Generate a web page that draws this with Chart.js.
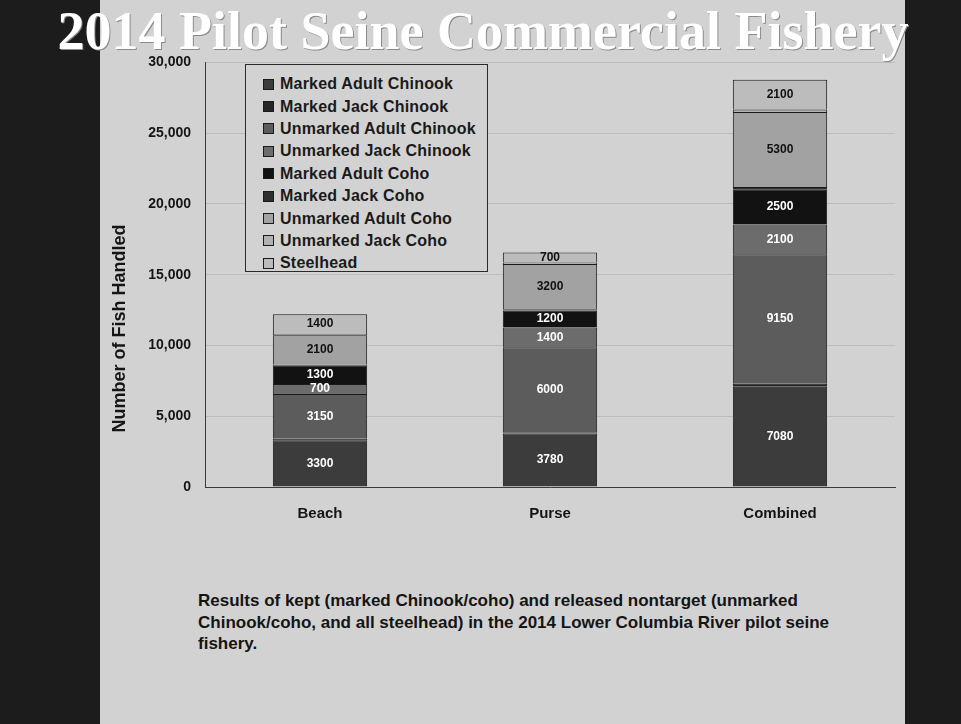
<!DOCTYPE html>
<html>
<head>
<meta charset="utf-8">
<script src="https://cdn.jsdelivr.net/npm/chart.js@4/dist/chart.umd.min.js"></script>
<style>
  html, body { margin: 0; padding: 0; }
  body { width: 961px; height: 724px; background: #1c1c1c; position: relative; overflow: hidden; font-family: "Liberation Sans", Arial, sans-serif; }
  #slide { position: absolute; left: 100px; top: 0; width: 805px; height: 724px; background: #d2d2d2; }
  #title { position: absolute; left: 0; top: 0px; width: 966px; text-align: center; color: #ffffff;
           font-family: "Liberation Serif", "Times New Roman", serif; font-weight: bold; font-size: 54px;
           text-shadow: 1px 1px 0 #8a8a8a; white-space: nowrap; }
  #chart-wrap { position: absolute; left: 100px; top: 40px; width: 805px; height: 500px; }
  #legend { position: absolute; left: 245px; top: 64px; width: 243px; height: 208px; border: 1px solid #2a2a2a;
            box-sizing: border-box; padding: 8px 0 0 17px; background: #d2d2d2; }
  .lg-item { height: 22.4px; display: flex; align-items: center; font-size: 16px; font-weight: bold; color: #1a1a1a; white-space: nowrap; letter-spacing: 0.2px; }
  .lg-sw { width: 9px; height: 9px; border: 1px solid #1a1a1a; margin-right: 6px; flex: none; }
  #caption { position: absolute; left: 198px; top: 590px; font-size: 17px; font-weight: bold; color: #151515; line-height: 21.5px; white-space: nowrap; }
</style>
</head>
<body>
<div id="slide"></div>
<div id="title">2014 Pilot Seine Commercial Fishery</div>
<div id="chart-wrap"><canvas id="fish-chart"></canvas></div>
<div id="legend"></div>
<div id="caption">Results of kept (marked Chinook/coho) and released nontarget (unmarked<br>Chinook/coho, and all steelhead) in the 2014 Lower Columbia River pilot seine<br>fishery.</div>
<script>
// 카테고리 / 시리즈 (아래에서 위로 쌓이는 순서)
const categories = ["Beach", "Purse", "Combined"];
const seriesLabels = [
  "Marked Adult Chinook", "Marked Jack Chinook", "Unmarked Adult Chinook", "Unmarked Jack Chinook",
  "Marked Adult Coho", "Marked Jack Coho", "Unmarked Adult Coho", "Unmarked Jack Coho", "Steelhead"
];
const markedAdultChinook   = [3300, 3780, 7080];
const markedJackChinook    = [120, 90, 210];
const unmarkedAdultChinook = [3150, 6000, 9150];
const unmarkedJackChinook  = [700, 1400, 2100];
const markedAdultCoho      = [1300, 1200, 2500];
const markedJackCoho       = [60, 90, 150];
const unmarkedAdultCoho    = [2100, 3200, 5300];
const unmarkedJackCoho     = [80, 100, 180];
const steelhead            = [1400, 700, 2100];
const yTicks = [0, 5000, 10000, 15000, 20000, 25000, 30000];

const seriesValues = [
  markedAdultChinook, markedJackChinook, unmarkedAdultChinook, unmarkedJackChinook,
  markedAdultCoho, markedJackCoho, unmarkedAdultCoho, unmarkedJackCoho, steelhead
];
const seriesColors = ["#3c3c3c", "#262626", "#5c5c5c", "#6c6c6c", "#121212", "#2e2e2e", "#a2a2a2", "#b2b2b2", "#bcbcbc"];
const labelColors  = ["#ffffff", "#ffffff", "#ffffff", "#ffffff", "#ffffff", "#ffffff", "#111111", "#111111", "#111111"];

const datasets = seriesLabels.map((label, i) => ({
  label,
  data: seriesValues[i],
  backgroundColor: seriesColors[i],
  borderColor: "#1a1a1a",
  borderWidth: 1,
  barPercentage: 0.41,
  categoryPercentage: 1.0,
}));

// 세그먼트 값 라벨
const segmentLabels = {
  id: "segmentLabels",
  afterDatasetsDraw(chart) {
    const ctx = chart.ctx;
    ctx.save();
    ctx.font = "bold 12px 'Liberation Sans', Arial, sans-serif";
    ctx.textAlign = "center";
    ctx.textBaseline = "middle";
    chart.data.datasets.forEach((ds, di) => {
      chart.getDatasetMeta(di).data.forEach((bar, i) => {
        const h = Math.abs(bar.base - bar.y);
        if (h < 9) return;
        ctx.fillStyle = labelColors[di];
        ctx.fillText(String(ds.data[i]), bar.x, (bar.y + bar.base) / 2);
      });
    });
    ctx.restore();
  },
};

// y축 제목 (원본 위치에 맞춰 직접 그림)
const yTitle = {
  id: "yTitle",
  afterDraw(chart) {
    const ctx = chart.ctx;
    const a = chart.chartArea;
    ctx.save();
    ctx.translate(a.left - 85, a.top + 266);
    ctx.rotate(-Math.PI / 2);
    ctx.font = "bold 18px 'Liberation Sans', Arial, sans-serif";
    ctx.fillStyle = "#151515";
    ctx.textAlign = "center";
    ctx.textBaseline = "middle";
    ctx.fillText("Number of Fish Handled", 0, 0);
    ctx.restore();
  },
};

const chart = new Chart(document.getElementById("fish-chart"), {
  type: "bar",
  data: { labels: categories, datasets },
  plugins: [segmentLabels, yTitle],
  options: {
    responsive: true,
    maintainAspectRatio: false,
    animation: false,
    layout: { padding: { top: 17, right: 10, left: 0, bottom: 0 } },
    plugins: {
      legend: { display: false },
      tooltip: { enabled: false },
    },
    scales: {
      x: {
        stacked: true,
        afterFit: (s) => { s.height = 53; },
        grid: { display: false, drawTicks: false },
        border: { display: true, color: "#3a3a3a", width: 1 },
        ticks: { color: "#151515", padding: 18, font: { size: 15, weight: "bold", family: "'Liberation Sans', Arial, sans-serif" } },
      },
      y: {
        stacked: true,
        min: 0,
        max: 30000,
        afterFit: (s) => { s.width = 105; },
        afterBuildTicks: (s) => { s.ticks = yTicks.map(v => ({ value: v })); },
        grid: { color: "#bcbcbc", drawTicks: false },
        border: { display: true, color: "#3a3a3a", width: 1 },
        ticks: { color: "#151515", padding: 14, font: { size: 14, weight: "bold", family: "'Liberation Sans', Arial, sans-serif" } },
      },
    },
  },
});

// 범례 (데이터셋에서 생성)
const legendEl = document.getElementById("legend");
chart.data.datasets.forEach((ds) => {
  const item = document.createElement("div");
  item.className = "lg-item";
  const sw = document.createElement("span");
  sw.className = "lg-sw";
  sw.style.background = ds.backgroundColor;
  item.appendChild(sw);
  item.appendChild(document.createTextNode(ds.label));
  legendEl.appendChild(item);
});
</script>
</body>
</html>
